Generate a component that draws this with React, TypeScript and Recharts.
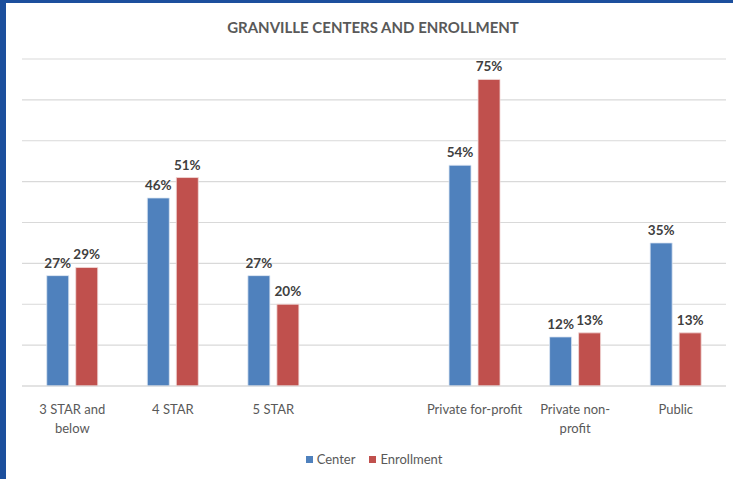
import { BarChart, Bar, XAxis, YAxis, CartesianGrid, Legend, LabelList } from 'recharts';

const categories = ['3 STAR and below', '4 STAR', '5 STAR', '', 'Private for-profit', 'Private non-profit', 'Public'];
const tickLines: string[][] = [['3 STAR and', 'below'], ['4 STAR'], ['5 STAR'], [], ['Private for-profit'], ['Private non-', 'profit'], ['Public']];
const center: (number | null)[] = [27, 46, 27, null, 54, 12, 35];
const enrollment: (number | null)[] = [29, 51, 20, null, 75, 13, 13];
const yTicks = [0, 10, 20, 30, 40, 50, 60, 70, 80];

const data = categories.map((name, i) => ({
  name,
  center: center[i],
  enrollment: enrollment[i],
}));

const FONT = 'Lato, "Open Sans", sans-serif';

function CategoryTick(props: any) {
  const { x, y, index } = props;
  const lines = tickLines[index] || [];
  return (
    <g transform={`translate(${x},${y})`}>
      {lines.map((l, i) => (
        <text key={i} x={0} y={20 + i * 19} textAnchor="middle" fill="#595959" fontSize={13} fontFamily={FONT}>
          {l}
        </text>
      ))}
    </g>
  );
}

function LegendContent() {
  const items = [
    { label: 'Center', color: '#4f81bd' },
    { label: 'Enrollment', color: '#c0504d' },
  ];
  return (
    <div style={{ display: 'flex', justifyContent: 'center', fontFamily: FONT, fontSize: 13, color: '#595959' }}>
      {items.map((it) => (
        <div key={it.label} style={{ display: 'flex', alignItems: 'center', margin: '0 7px' }}>
          <span style={{ display: 'inline-block', width: 7, height: 7, background: it.color, marginRight: 4 }} />
          <span>{it.label}</span>
        </div>
      ))}
    </div>
  );
}

const pct = (v: any) => (v == null ? '' : `${v}%`);

export default function App() {
  return (
    <div style={{ position: 'absolute', left: 0, top: 0, width: 733, height: 479, background: '#fff', overflow: 'hidden' }}>
      <div style={{ position: 'absolute', left: 0, top: 0, width: 6, height: 479, background: '#1c4f9d' }} />
      <div style={{ position: 'absolute', left: 0, top: 0, width: 733, height: 3, background: '#1c4f9d' }} />
      <div
        style={{
          position: 'absolute',
          left: 0,
          top: 18,
          width: 746,
          textAlign: 'center',
          fontFamily: FONT,
          fontWeight: 700,
          fontSize: 15,
          color: '#595959',
        }}
      >
        GRANVILLE CENTERS AND ENROLLMENT
      </div>
      <div style={{ position: 'absolute', left: 0, top: 0 }}>
        <BarChart
          width={733}
          height={479}
          data={data}
          margin={{ top: 59, right: 7, bottom: 3, left: 22 }}
          barCategoryGap="24.6%"
          barGap={7}
        >
          <CartesianGrid vertical={false} stroke="#d9d9d9" strokeWidth={1.2} />
          <XAxis
            dataKey="name"
            height={65}
            axisLine={{ stroke: '#d9d9d9', strokeWidth: 1.2 }}
            tickLine={false}
            tick={<CategoryTick />}
            interval={0}
          />
          <YAxis hide domain={[0, 80]} ticks={yTicks} />
          <Legend verticalAlign="bottom" height={25} content={<LegendContent />} />
          <Bar dataKey="center" name="Center" fill="#4f81bd" stroke="#dce6f2" strokeWidth={0.8} isAnimationActive={false}>
            <LabelList dataKey="center" position="top" offset={8} formatter={pct} fill="#404040" fontSize={13.5} fontWeight={700} fontFamily={FONT} />
          </Bar>
          <Bar dataKey="enrollment" name="Enrollment" fill="#c0504d" stroke="#f2dcdb" strokeWidth={0.8} isAnimationActive={false}>
            <LabelList dataKey="enrollment" position="top" offset={8} formatter={pct} fill="#404040" fontSize={13.5} fontWeight={700} fontFamily={FONT} />
          </Bar>
        </BarChart>
      </div>
    </div>
  );
}
